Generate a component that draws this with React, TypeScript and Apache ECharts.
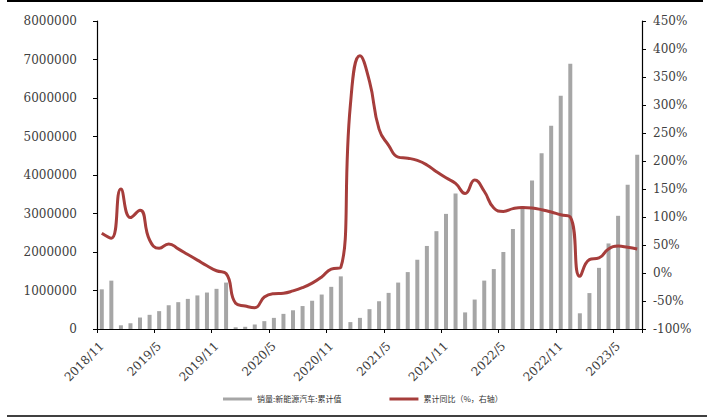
import React, { useEffect, useRef } from "react";
import * as echarts from "echarts";

// Monthly categories, 2018/11 – 2023/7
const months: string[] = [
  "2018/11", "2018/12",
  "2019/1", "2019/2", "2019/3", "2019/4", "2019/5", "2019/6", "2019/7", "2019/8", "2019/9", "2019/10", "2019/11", "2019/12",
  "2020/1", "2020/2", "2020/3", "2020/4", "2020/5", "2020/6", "2020/7", "2020/8", "2020/9", "2020/10", "2020/11", "2020/12",
  "2021/1", "2021/2", "2021/3", "2021/4", "2021/5", "2021/6", "2021/7", "2021/8", "2021/9", "2021/10", "2021/11", "2021/12",
  "2022/1", "2022/2", "2022/3", "2022/4", "2022/5", "2022/6", "2022/7", "2022/8", "2022/9", "2022/10", "2022/11", "2022/12",
  "2023/1", "2023/2", "2023/3", "2023/4", "2023/5", "2023/6", "2023/7",
];

// 销量:新能源汽车:累计值 (vehicles, left axis)
const salesCumulative: number[] = [
  1030000, 1256000,
  96000, 149000, 298000, 368000, 464000, 617000, 697000, 782000, 872000, 947000, 1043000, 1206000,
  44000, 57000, 114000, 204000, 289000, 393000, 486000, 596000, 734000, 895000, 1095000, 1367000,
  179000, 289000, 515000, 721000, 938000, 1206000, 1478000, 1799000, 2157000, 2541000, 2990000, 3521000,
  431000, 765000, 1257000, 1557000, 2000000, 2600000, 3194000, 3860000, 4567000, 5280000, 6060000, 6887000,
  408000, 933000, 1588000, 2222000, 2940000, 3747000, 4528000,
];

// 累计同比 (%, right axis)
const yoyCumulative: number[] = [
  71, 62,
  150, 99, 112, 59, 44, 52, 43, 33, 23, 13, 4, -1,
  -54, -59, -62, -43, -37, -36, -32, -26, -18, -7, 7, 10,
  300, 388, 342, 257, 228, 207, 205, 201, 193, 181, 170, 160,
  142, 166, 146, 116, 110, 115, 117, 116, 113, 109, 104, 100,
  -6, 24, 27, 43, 48, 46, 43,
];

const seriesNames: string[] = ["销量:新能源汽车:累计值", "累计同比（%，右轴）"];

const LABEL_FONT = "'DejaVu Serif', 'Liberation Serif', serif";
const CJK_FONT = "'Noto Sans CJK SC', 'Noto Sans', sans-serif";
const AXIS_COLOR = "#000000";
const TEXT_COLOR = "#404040";

export default function App() {
  const ref = useRef<HTMLDivElement>(null);

  useEffect(() => {
    if (!ref.current) return;
    const chart = echarts.init(ref.current, undefined, { renderer: "svg" });

    const axisLine = { show: true, lineStyle: { color: AXIS_COLOR, width: 1.2 } };
    const axisTick = { show: true, inside: false, length: 4, lineStyle: { color: AXIS_COLOR, width: 1 } };

    chart.setOption({
      animation: false,
      backgroundColor: "#ffffff",
      grid: { left: 97, right: 71, top: 21, bottom: 88, containLabel: false },
      legend: {
        left: 218,
        top: 390,
        itemGap: 48,
        itemWidth: 29,
        itemHeight: 3,
        icon: "rect",
        textStyle: { fontFamily: CJK_FONT, fontSize: 8, color: "#333333" },
        data: seriesNames,
      },
      xAxis: {
        type: "category",
        data: months,
        boundaryGap: true,
        axisLine,
        axisTick: { ...axisTick, interval: 5, alignWithLabel: false },
        axisLabel: {
          interval: 5,
          rotate: 45,
          margin: 15,
          fontFamily: LABEL_FONT,
          fontSize: 12,
          color: TEXT_COLOR,
        },
        splitLine: { show: false },
      },
      yAxis: [
        {
          type: "value",
          min: 0,
          max: 8000000,
          interval: 1000000,
          axisLine,
          axisTick,
          splitLine: { show: false },
          axisLabel: {
            margin: 20,
            formatter: (v: number) => String(v),
            fontFamily: LABEL_FONT,
            fontSize: 12,
            color: TEXT_COLOR,
          },
        },
        {
          type: "value",
          min: -100,
          max: 450,
          interval: 50,
          position: "right",
          axisLine,
          axisTick,
          splitLine: { show: false },
          axisLabel: {
            margin: 11,
            formatter: "{value}%",
            fontFamily: LABEL_FONT,
            fontSize: 12,
            color: TEXT_COLOR,
          },
        },
      ],
      series: [
        {
          name: seriesNames[0],
          type: "bar",
          yAxisIndex: 0,
          data: salesCumulative,
          barWidth: 4,
          itemStyle: { color: "#a6a6a6" },
        },
        {
          name: seriesNames[1],
          type: "line",
          yAxisIndex: 1,
          data: yoyCumulative,
          smooth: 0.5,
          showSymbol: false,
          symbol: "none",
          lineStyle: { color: "#a63d3b", width: 3 },
          itemStyle: { color: "#a63d3b" },
        },
      ],
      graphic: [
        {
          type: "line",
          shape: { x1: 7, y1: 1, x2: 703, y2: 1 },
          style: { stroke: "#000000", lineWidth: 2 },
          silent: true,
        },
        {
          type: "line",
          shape: { x1: 7, y1: 416, x2: 707, y2: 416 },
          style: { stroke: "#000000", lineWidth: 1.6 },
          silent: true,
        },
      ],
    });

    return () => chart.dispose();
  }, []);

  return (
    <div
      ref={ref}
      style={{ position: "fixed", left: 0, top: 0, width: 713, height: 417, background: "#ffffff" }}
    />
  );
}
